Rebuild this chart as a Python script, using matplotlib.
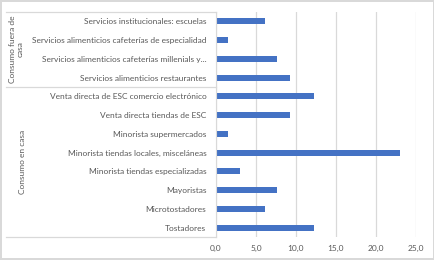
import matplotlib
matplotlib.use('Agg')
import matplotlib.pyplot as plt
from matplotlib.lines import Line2D
from matplotlib.ticker import FuncFormatter

plt.rcParams['font.family'] = ['Lato', 'DejaVu Sans']

# categories top to bottom
categorias = ['Servicios institucionales: escuelas',
              'Servicios alimenticios cafeterías de especialidad',
              'Servicios alimenticios cafeterías millenials y...',
              'Servicios alimenticios restaurantes',
              'Venta directa de ESC comercio electrónico',
              'Venta directa tiendas de ESC',
              'Minorista supermercados',
              'Minorista tiendas locales, misceláneas',
              'Minorista tiendas especializadas',
              'Mayoristas',
              'Microtostadores',
              'Tostadores']
valores = [6.1, 1.5, 7.6, 9.2, 12.2, 9.2, 1.5, 23.0, 3.0, 7.6, 6.1, 12.2]
grupos = ['Consumo fuera de\ncasa', 'Consumo en casa']
n_grupo = [4, 8]

ticks_x = [0, 5, 10, 15, 20, 25]
gris = '#595959'
linea = '#D9D9D9'
fs = 6.0

W, H = 435, 260
fig = plt.figure(figsize=(W / 100, H / 100), dpi=100)
fig.patch.set_edgecolor(linea)
fig.patch.set_linewidth(1.5)

x0, x1, y0, y1 = 216, 416, 12, 237
ax = fig.add_axes([x0 / W, 1 - y1 / H, (x1 - x0) / W, (y1 - y0) / H])

pos = list(range(len(categorias)))[::-1]
ax.barh(pos, valores, height=0.33, color='#4472C4')
ax.set_ylim(-0.5, len(categorias) - 0.5)
ax.set_xlim(0, 25)
ax.set_xticks(ticks_x)
ax.xaxis.set_major_formatter(FuncFormatter(lambda v, p: f'{v:.1f}'.replace('.', ',')))
ax.set_yticks(pos)
ax.set_yticklabels(categorias)
ax.tick_params(axis='both', length=0, colors=gris, labelsize=fs)
ax.tick_params(axis='y', pad=7)
ax.tick_params(axis='x', pad=6)
ax.grid(axis='x', color=linea, linewidth=0.9)
ax.set_axisbelow(True)
for s in ['top', 'right', 'bottom']:
    ax.spines[s].set_visible(False)
ax.spines['left'].set_color(linea)

# multi-level category lines and group labels
def fy(py):
    return 1 - py / H

fila = (y1 - y0) / len(categorias)
arriba = y0
for g, n in zip(grupos, n_grupo):
    abajo = arriba + n * fila
    fig.add_artist(Line2D([6 / W, x0 / W], [fy(arriba), fy(arriba)], color=linea, lw=0.9))
    xc = 16.5 / W if '\n' in g else 22.5 / W
    fig.text(xc, fy((arriba + abajo) / 2), g, rotation=90, ha='center', va='center',
             fontsize=fs, color=gris, linespacing=1.0, multialignment='center')
    arriba = abajo
fig.add_artist(Line2D([6 / W, x0 / W], [fy(y1), fy(y1)], color=linea, lw=0.9))

fig.savefig('out.png', dpi=100)
